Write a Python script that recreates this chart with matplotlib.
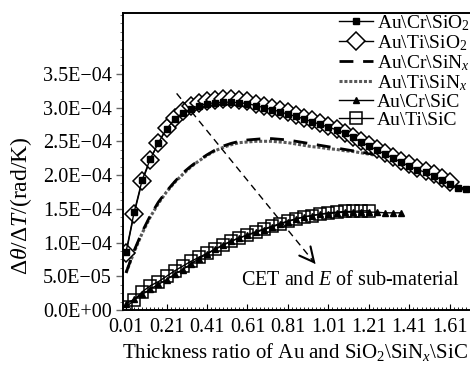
import matplotlib
matplotlib.use("Agg")
import matplotlib.pyplot as plt
from matplotlib.ticker import FixedLocator, MultipleLocator, AutoMinorLocator, FuncFormatter

plt.rcParams["font.family"] = ["Liberation Serif", "DejaVu Serif"]
plt.rcParams["mathtext.fontset"] = "custom"
plt.rcParams["mathtext.rm"] = "Liberation Serif"
plt.rcParams["mathtext.it"] = "Liberation Serif:italic"

# thickness ratio grid
x_grid = [0.01, 0.05, 0.09, 0.13, 0.17, 0.21, 0.25, 0.29, 0.33, 0.37, 0.41,
          0.45, 0.49, 0.53, 0.57, 0.61, 0.65, 0.69, 0.73, 0.77, 0.81, 0.85,
          0.89, 0.93, 0.97, 1.01, 1.05, 1.09, 1.13, 1.17, 1.21, 1.25, 1.29,
          1.33, 1.37, 1.41, 1.45, 1.49, 1.53, 1.57, 1.61, 1.65, 1.69]

# d(theta)/dT in units of 1E-04 rad/K
cr_sio2 = [0.86, 1.45, 1.93, 2.24, 2.48, 2.68, 2.83, 2.92, 2.98, 3.03, 3.06,
           3.07, 3.08, 3.08, 3.07, 3.06, 3.03, 3.00, 2.97, 2.94, 2.90, 2.87,
           2.83, 2.79, 2.75, 2.71, 2.67, 2.62, 2.56, 2.49, 2.43, 2.37, 2.31,
           2.25, 2.19, 2.13, 2.08, 2.04, 1.99, 1.93, 1.86, 1.81, 1.79]
ti_sio2 = [0.84, 1.43, 1.91, 2.23, 2.48, 2.69, 2.85, 2.95, 3.02, 3.07, 3.10,
           3.11, 3.12, 3.12, 3.11, 3.09, 3.06, 3.03, 3.00, 2.96, 2.93, 2.89,
           2.85, 2.81, 2.77, 2.72, 2.68, 2.63, 2.57, 2.51, 2.45, 2.39, 2.33,
           2.27, 2.21, 2.16, 2.11, 2.06, 2.01, 1.95, 1.89]
cr_sinx = [0.55, 0.88, 1.16, 1.40, 1.60, 1.76, 1.90, 2.03, 2.13, 2.22, 2.30,
           2.37, 2.43, 2.47, 2.50, 2.52, 2.53, 2.54, 2.54, 2.53, 2.52, 2.50,
           2.48, 2.46, 2.44, 2.42, 2.40, 2.38, 2.36, 2.34, 2.32, 2.30, 2.28,
           2.24, 2.19, 2.13, 2.08, 2.04, 1.99, 1.93, 1.87, 1.82, 1.79]
ti_sinx = [0.55, 0.86, 1.14, 1.38, 1.58, 1.75, 1.89, 2.01, 2.12, 2.21, 2.29,
           2.36, 2.41, 2.45, 2.48, 2.49, 2.50, 2.50, 2.50, 2.49, 2.48, 2.46,
           2.44, 2.42, 2.41, 2.39, 2.38, 2.36, 2.35, 2.33, 2.31, 2.29, 2.27,
           2.23, 2.18, 2.13, 2.08, 2.03, 1.98, 1.92, 1.86, 1.81, 1.78]
cr_sic = [0.09, 0.16, 0.23, 0.31, 0.38, 0.45, 0.53, 0.60, 0.68, 0.76, 0.83,
          0.90, 0.97, 1.02, 1.07, 1.11, 1.15, 1.19, 1.23, 1.27, 1.31, 1.35,
          1.38, 1.40, 1.42, 1.43, 1.44, 1.45, 1.45, 1.45, 1.45, 1.45, 1.44,
          1.44, 1.44]
ti_sic = [0.04, 0.15, 0.27, 0.36, 0.42, 0.50, 0.58, 0.65, 0.72, 0.78, 0.84,
          0.90, 0.96, 1.02, 1.07, 1.11, 1.16, 1.20, 1.24, 1.28, 1.32, 1.35,
          1.38, 1.40, 1.42, 1.44, 1.45, 1.46, 1.46, 1.47, 1.47]

labels = ["Au\\Cr\\SiO$_2$", "Au\\Ti\\SiO$_2$", "Au\\Cr\\SiN$_x$",
          "Au\\Ti\\SiN$_x$", "Au\\Cr\\SiC", "Au\\Ti\\SiC"]
xticks = [0.01, 0.21, 0.41, 0.61, 0.81, 1.01, 1.21, 1.41, 1.61]
yticks = [0.0, 0.5e-4, 1.0e-4, 1.5e-4, 2.0e-4, 2.5e-4, 3.0e-4, 3.5e-4]

FS = 14.5

def scaled(vals):
    return [v * 1e-4 for v in vals]

def xs(vals):
    return x_grid[:len(vals)]

fig = plt.figure(figsize=(4.70, 3.67), dpi=100)
ax = fig.add_axes([0.2617, 0.1553, 0.76, 0.809])

ax.plot(xs(ti_sinx), scaled(ti_sinx), ls=(0, (1, 0.6)), lw=2.2, color="0.35", label=labels[3])
ax.plot(xs(cr_sinx), scaled(cr_sinx), ls=(0, (5, 3.5)), lw=2.0, color="black", label=labels[2])
ax.plot(xs(ti_sio2), scaled(ti_sio2), "-D", color="black", lw=1, ms=9, mfc="white", mew=1.1, label=labels[1])
ax.plot(xs(cr_sio2), scaled(cr_sio2), "-s", color="black", lw=1, ms=5, label=labels[0])
ax.plot(xs(ti_sic), scaled(ti_sic), "-s", color="black", lw=1, ms=8.5, mfc="none", mew=1.1, label=labels[5])
ax.plot(xs(cr_sic), scaled(cr_sic), "-^", color="black", lw=1, ms=5, label=labels[4])

# arrow: trend with CET and E of sub-material
arrow_start = (0.26, 3.21e-4)
arrow_end = (0.955, 0.65e-4)
ax.plot([arrow_start[0], arrow_end[0]], [arrow_start[1], arrow_end[1]],
        ls=(0, (5, 3.5)), lw=1.0, color="black")
ax.annotate("", xy=arrow_end, xytext=(0.925, 0.76e-4),
            arrowprops=dict(arrowstyle="->", lw=1.5, color="black", mutation_scale=26))
ax.text(1.12, 0.44e-4, "CET and $E$ of sub-material", fontsize=FS, ha="center", va="center")

ax.set_xlim(-0.005, 1.76)
ax.set_ylim(0, 4.4e-4)
ax.xaxis.set_major_locator(FixedLocator(xticks))
ax.xaxis.set_minor_locator(MultipleLocator(0.02, offset=0.01))
ax.yaxis.set_major_locator(FixedLocator(yticks))
ax.yaxis.set_minor_locator(AutoMinorLocator(4))
ax.xaxis.set_major_formatter(FuncFormatter(lambda v, p: f"{v:.2f}"))
ax.yaxis.set_major_formatter(FuncFormatter(lambda v, p: f"{v:.1E}".replace("-", "\u2212")))
ax.tick_params(axis="x", which="major", direction="in", length=4, width=0.8, labelsize=FS, pad=6)
ax.tick_params(axis="x", which="minor", direction="in", length=2, width=0.6)
ax.tick_params(axis="y", which="major", direction="out", length=5, width=1.0, labelsize=FS, pad=3, color="0.4")
ax.tick_params(axis="y", which="minor", direction="out", length=2.5, width=0.6, color="0.4")
ax.tick_params(top=False, right=False, which="both")
for s in ax.spines.values():
    s.set_linewidth(1.4)

ax.set_xlabel("Thickness ratio of Au and SiO$_2$\\SiN$_x$\\SiC", fontsize=15)
ax.xaxis.set_label_coords((295 - 123) / 357, -0.105)
ax.set_ylabel(r"$\Delta\theta/\Delta T$/(rad/K)", fontsize=17)
ax.yaxis.set_label_coords(-0.25, 0.35)

handles, labs = ax.get_legend_handles_labels()
order = [labs.index(l) for l in labels]
ax.legend([handles[i] for i in order], labels, loc="upper left",
          bbox_to_anchor=(339 / 470, 1 - 13 / 367), bbox_transform=fig.transFigure,
          frameon=False, fontsize=14, borderpad=0, borderaxespad=0,
          handlelength=1.75, handletextpad=0.2, labelspacing=0.02)

fig.savefig("out.png", dpi=100)
